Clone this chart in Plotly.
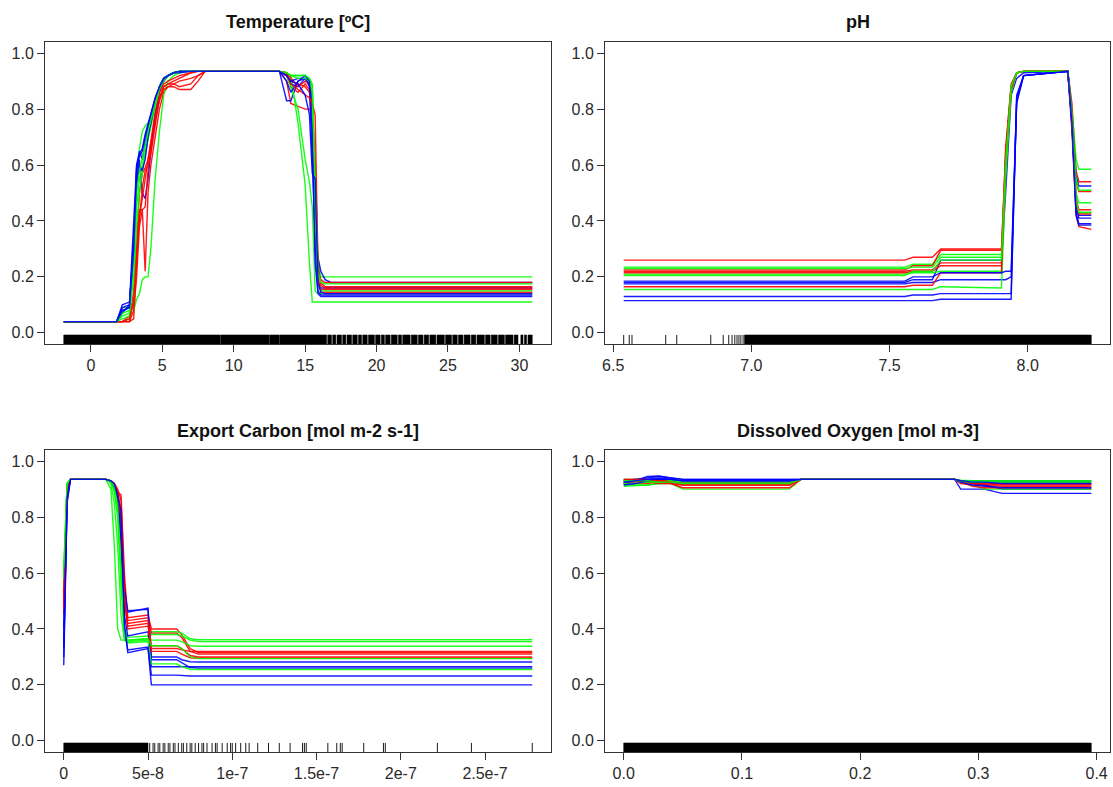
import plotly.graph_objects as go

W, H = 1113, 787
line_colors = ["#FF0000", "#00FF00", "#0000FF"]   # cycled red, green, blue
y_ticks = [0.0, 0.2, 0.4, 0.6, 0.8, 1.0]
y_labels = ["0.0", "0.2", "0.4", "0.6", "0.8", "1.0"]

# ---------------- Temperature ----------------
temp_title = "Temperature [ºC]"
temp_x = [-1.9, 1.8, 2.2, 2.7, 3.0, 3.2, 3.4, 3.6, 3.8, 4.0, 4.2, 4.5, 4.8, 5.1, 5.4, 5.8, 6.2, 7.0, 7.5, 8.0,
          13.2, 13.7, 14.0, 14.5, 15.0, 15.3, 15.5, 15.7, 15.9, 16.1, 16.4, 16.8, 30.9]
temp_curves = [
    [0.04, 0.04, 0.04, 0.04, 0.05, 0.25, 0.44, 0.44, 0.22, 0.50, 0.60, 0.70, 0.80, 0.86, 0.88, 0.88, 0.87, 0.87, 0.90, 0.935,
     0.935, 0.90, 0.82, 0.81, 0.80, 0.80, 0.80, 0.62, 0.25, 0.18, 0.165, 0.165, 0.165],
    [0.04, 0.04, 0.09, 0.09, 0.25, 0.55, 0.66, 0.72, 0.74, 0.75, 0.77, 0.83, 0.88, 0.91, 0.92, 0.93, 0.935, 0.935, 0.935, 0.935,
     0.935, 0.93, 0.92, 0.92, 0.92, 0.91, 0.88, 0.50, 0.25, 0.20, 0.20, 0.20, 0.20],
    [0.04, 0.04, 0.10, 0.11, 0.30, 0.60, 0.65, 0.62, 0.68, 0.73, 0.76, 0.82, 0.87, 0.90, 0.92, 0.93, 0.935, 0.935, 0.935, 0.935,
     0.935, 0.83, 0.83, 0.90, 0.91, 0.88, 0.62, 0.35, 0.27, 0.22, 0.19, 0.18, 0.18],
    [0.04, 0.04, 0.04, 0.04, 0.15, 0.35, 0.50, 0.57, 0.59, 0.62, 0.68, 0.76, 0.84, 0.88, 0.89, 0.90, 0.91, 0.93, 0.935, 0.935,
     0.935, 0.92, 0.88, 0.86, 0.89, 0.87, 0.82, 0.45, 0.22, 0.19, 0.18, 0.18, 0.18],
    [0.04, 0.04, 0.04, 0.05, 0.08, 0.12, 0.14, 0.19, 0.20, 0.20, 0.30, 0.55, 0.72, 0.85, 0.90, 0.92, 0.93, 0.935, 0.935, 0.935,
     0.935, 0.93, 0.92, 0.75, 0.53, 0.25, 0.11, 0.11, 0.11, 0.11, 0.11, 0.11, 0.11],
    [0.04, 0.04, 0.08, 0.09, 0.35, 0.55, 0.62, 0.50, 0.48, 0.55, 0.65, 0.78, 0.86, 0.90, 0.92, 0.93, 0.93, 0.935, 0.935, 0.935,
     0.935, 0.92, 0.89, 0.88, 0.91, 0.90, 0.80, 0.35, 0.18, 0.16, 0.16, 0.16, 0.16],
    [0.04, 0.04, 0.04, 0.06, 0.10, 0.30, 0.42, 0.48, 0.55, 0.63, 0.70, 0.79, 0.86, 0.89, 0.90, 0.91, 0.92, 0.93, 0.935, 0.935,
     0.935, 0.93, 0.91, 0.88, 0.90, 0.89, 0.85, 0.40, 0.17, 0.155, 0.155, 0.155, 0.155],
    [0.04, 0.04, 0.06, 0.07, 0.20, 0.45, 0.55, 0.60, 0.65, 0.70, 0.75, 0.82, 0.88, 0.91, 0.92, 0.93, 0.935, 0.935, 0.935, 0.935,
     0.935, 0.92, 0.88, 0.80, 0.62, 0.54, 0.45, 0.15, 0.14, 0.14, 0.14, 0.14, 0.14],
    [0.04, 0.04, 0.07, 0.10, 0.40, 0.60, 0.63, 0.65, 0.70, 0.74, 0.78, 0.84, 0.88, 0.91, 0.92, 0.93, 0.935, 0.935, 0.935, 0.935,
     0.935, 0.92, 0.90, 0.91, 0.91, 0.89, 0.83, 0.30, 0.15, 0.135, 0.135, 0.135, 0.135],
    [0.04, 0.04, 0.04, 0.04, 0.08, 0.20, 0.38, 0.44, 0.45, 0.58, 0.66, 0.76, 0.83, 0.87, 0.88, 0.89, 0.90, 0.91, 0.92, 0.935,
     0.935, 0.92, 0.90, 0.89, 0.88, 0.86, 0.80, 0.50, 0.20, 0.145, 0.145, 0.145, 0.145],
    [0.04, 0.04, 0.05, 0.06, 0.12, 0.38, 0.50, 0.58, 0.64, 0.69, 0.74, 0.81, 0.87, 0.90, 0.92, 0.93, 0.935, 0.935, 0.935, 0.935,
     0.935, 0.93, 0.92, 0.91, 0.91, 0.90, 0.86, 0.42, 0.17, 0.15, 0.15, 0.15, 0.15],
    [0.04, 0.04, 0.09, 0.10, 0.32, 0.52, 0.60, 0.58, 0.62, 0.70, 0.75, 0.83, 0.88, 0.91, 0.92, 0.93, 0.935, 0.935, 0.935, 0.935,
     0.935, 0.90, 0.86, 0.90, 0.92, 0.90, 0.70, 0.25, 0.14, 0.13, 0.13, 0.13, 0.13],
    [0.04, 0.04, 0.04, 0.05, 0.12, 0.28, 0.40, 0.52, 0.58, 0.60, 0.64, 0.74, 0.84, 0.88, 0.89, 0.89, 0.88, 0.89, 0.92, 0.935,
     0.935, 0.93, 0.89, 0.87, 0.85, 0.84, 0.82, 0.78, 0.24, 0.17, 0.16, 0.16, 0.16],
    [0.04, 0.04, 0.07, 0.08, 0.28, 0.50, 0.58, 0.62, 0.67, 0.72, 0.76, 0.83, 0.88, 0.91, 0.92, 0.93, 0.935, 0.935, 0.935, 0.935,
     0.935, 0.93, 0.92, 0.92, 0.92, 0.91, 0.89, 0.55, 0.22, 0.18, 0.175, 0.175, 0.175],
    [0.04, 0.04, 0.08, 0.09, 0.30, 0.58, 0.64, 0.66, 0.71, 0.75, 0.78, 0.84, 0.88, 0.91, 0.92, 0.93, 0.935, 0.935, 0.935, 0.935,
     0.935, 0.92, 0.90, 0.89, 0.85, 0.78, 0.57, 0.55, 0.18, 0.145, 0.14, 0.14, 0.14],
]
temp_xticks = [0, 5, 10, 15, 20, 25, 30]
temp_xlabels = ["0", "5", "10", "15", "20", "25", "30"]
temp_rug_bands = [[-1.9, 9.07], [9.11, 12.47], [12.51, 13.17], [13.21, 16.5], [16.58, 16.85], [16.93, 17.15],
                  [17.23, 17.55], [17.63, 17.85], [17.93, 18.25], [18.33, 18.65], [18.73, 18.95], [19.03, 19.35],
                  [19.43, 19.85], [19.93, 20.25], [20.33, 20.55], [20.63, 20.95], [21.03, 21.45], [21.53, 21.75],
                  [21.83, 22.35], [22.43, 22.85], [22.93, 23.25], [23.33, 23.65], [23.73, 24.15], [24.23, 24.75],
                  [24.83, 25.25], [25.33, 25.65], [25.73, 26.05], [26.13, 26.55], [26.63, 26.95], [27.03, 27.55],
                  [27.63, 27.95], [28.03, 28.45], [28.53, 28.95], [29.03, 29.55], [29.63, 29.9], [30.1, 30.25],
                  [30.35, 30.5], [30.6, 30.9]]
temp_rug_ticks = []

# ---------------- pH ----------------
ph_title = "pH"
ph_x = [6.538, 7.555, 7.585, 7.655, 7.685, 7.905, 7.92, 7.94, 7.96, 7.985, 8.145, 8.16, 8.175, 8.185, 8.23]
ph_curves = [
    [0.26, 0.26, 0.27, 0.27, 0.30, 0.30, 0.62, 0.88, 0.93, 0.935, 0.935, 0.82, 0.58, 0.54, 0.54],
    [0.235, 0.235, 0.245, 0.245, 0.28, 0.28, 0.58, 0.87, 0.93, 0.935, 0.935, 0.80, 0.62, 0.585, 0.585],
    [0.18, 0.18, 0.19, 0.19, 0.26, 0.26, 0.50, 0.85, 0.91, 0.93, 0.935, 0.78, 0.56, 0.525, 0.525],
    [0.225, 0.225, 0.24, 0.24, 0.295, 0.295, 0.65, 0.88, 0.93, 0.935, 0.935, 0.79, 0.54, 0.505, 0.505],
    [0.23, 0.23, 0.235, 0.235, 0.27, 0.27, 0.60, 0.86, 0.93, 0.935, 0.935, 0.78, 0.55, 0.51, 0.51],
    [0.175, 0.175, 0.18, 0.18, 0.19, 0.19, 0.19, 0.20, 0.82, 0.92, 0.935, 0.76, 0.46, 0.42, 0.42],
    [0.22, 0.22, 0.225, 0.225, 0.25, 0.25, 0.66, 0.89, 0.93, 0.935, 0.935, 0.72, 0.42, 0.38, 0.37],
    [0.21, 0.21, 0.215, 0.215, 0.22, 0.22, 0.60, 0.88, 0.93, 0.935, 0.935, 0.77, 0.50, 0.465, 0.465],
    [0.13, 0.13, 0.135, 0.135, 0.14, 0.14, 0.14, 0.14, 0.84, 0.92, 0.935, 0.74, 0.43, 0.39, 0.39],
    [0.215, 0.215, 0.22, 0.22, 0.24, 0.24, 0.58, 0.87, 0.93, 0.935, 0.935, 0.77, 0.48, 0.44, 0.44],
    [0.155, 0.155, 0.155, 0.155, 0.165, 0.16, 0.55, 0.86, 0.93, 0.935, 0.935, 0.76, 0.47, 0.43, 0.43],
    [0.115, 0.115, 0.115, 0.115, 0.12, 0.12, 0.12, 0.12, 0.85, 0.92, 0.935, 0.75, 0.45, 0.41, 0.41],
    [0.165, 0.165, 0.17, 0.17, 0.215, 0.215, 0.62, 0.87, 0.93, 0.935, 0.935, 0.76, 0.46, 0.425, 0.425],
    [0.205, 0.205, 0.22, 0.22, 0.26, 0.26, 0.61, 0.88, 0.93, 0.935, 0.935, 0.77, 0.47, 0.43, 0.43],
    [0.185, 0.185, 0.20, 0.20, 0.215, 0.215, 0.22, 0.22, 0.83, 0.92, 0.935, 0.75, 0.42, 0.385, 0.385],
]
ph_xticks = [6.5, 7.0, 7.5, 8.0]
ph_xlabels = ["6.5", "7.0", "7.5", "8.0"]
ph_rug_bands = [[6.975, 8.23]]
ph_rug_ticks = [6.538, 6.558, 6.568, 6.69, 6.73, 6.853, 6.898, 6.918, 6.93, 6.94, 6.948, 6.955, 6.962, 6.97]

# ---------------- Export Carbon ----------------
ec_title = "Export Carbon [mol m-2 s-1]"
ec_x = [0.0, 0.2e-8, 0.4e-8, 2.5e-8, 2.8e-8, 3.0e-8, 3.2e-8, 3.4e-8, 3.6e-8, 3.8e-8, 5.0e-8, 5.2e-8,
        6.7e-8, 7.0e-8, 7.5e-8, 8.0e-8, 2.78e-7]
ec_curves = [
    [0.45, 0.90, 0.935, 0.935, 0.93, 0.92, 0.90, 0.86, 0.55, 0.44, 0.45, 0.40, 0.40, 0.38, 0.33, 0.315, 0.315],
    [0.53, 0.92, 0.935, 0.935, 0.90, 0.70, 0.40, 0.36, 0.36, 0.36, 0.365, 0.39, 0.39, 0.385, 0.365, 0.362, 0.362],
    [0.27, 0.85, 0.935, 0.935, 0.93, 0.91, 0.87, 0.75, 0.50, 0.46, 0.475, 0.30, 0.30, 0.29, 0.283, 0.282, 0.282],
    [0.50, 0.91, 0.935, 0.935, 0.93, 0.92, 0.89, 0.88, 0.60, 0.43, 0.44, 0.385, 0.385, 0.37, 0.32, 0.31, 0.31],
    [0.55, 0.92, 0.935, 0.935, 0.92, 0.85, 0.70, 0.45, 0.36, 0.355, 0.36, 0.38, 0.38, 0.375, 0.36, 0.355, 0.355],
    [0.35, 0.88, 0.935, 0.935, 0.93, 0.90, 0.86, 0.80, 0.55, 0.465, 0.47, 0.265, 0.265, 0.265, 0.265, 0.265, 0.265],
    [0.48, 0.90, 0.935, 0.935, 0.93, 0.91, 0.88, 0.70, 0.50, 0.42, 0.43, 0.34, 0.34, 0.33, 0.305, 0.30, 0.30],
    [0.60, 0.92, 0.935, 0.935, 0.93, 0.90, 0.82, 0.60, 0.40, 0.37, 0.375, 0.36, 0.36, 0.355, 0.34, 0.338, 0.338],
    [0.40, 0.88, 0.935, 0.935, 0.93, 0.91, 0.86, 0.78, 0.45, 0.375, 0.39, 0.29, 0.29, 0.28, 0.262, 0.26, 0.26],
    [0.52, 0.91, 0.935, 0.935, 0.93, 0.92, 0.89, 0.82, 0.52, 0.40, 0.41, 0.33, 0.33, 0.325, 0.32, 0.32, 0.32],
    [0.58, 0.92, 0.935, 0.935, 0.93, 0.89, 0.80, 0.55, 0.37, 0.35, 0.355, 0.275, 0.275, 0.265, 0.256, 0.255, 0.255],
    [0.30, 0.86, 0.935, 0.935, 0.93, 0.91, 0.87, 0.72, 0.40, 0.325, 0.335, 0.235, 0.235, 0.233, 0.232, 0.232, 0.232],
    [0.47, 0.90, 0.935, 0.935, 0.93, 0.92, 0.88, 0.80, 0.50, 0.41, 0.42, 0.32, 0.32, 0.31, 0.297, 0.295, 0.295],
    [0.62, 0.92, 0.935, 0.935, 0.93, 0.91, 0.84, 0.62, 0.38, 0.36, 0.365, 0.34, 0.34, 0.33, 0.30, 0.294, 0.294],
    [0.33, 0.87, 0.935, 0.935, 0.93, 0.92, 0.88, 0.82, 0.42, 0.315, 0.33, 0.20, 0.20, 0.20, 0.20, 0.20, 0.20],
]
ec_xticks = [0.0, 5e-8, 1e-7, 1.5e-7, 2e-7, 2.5e-7]
ec_xlabels = ["0", "5e-8", "1e-7", "1.5e-7", "2e-7", "2.5e-7"]
ec_rug_bands = [[0.0, 5.0e-8]]
ec_rug_ticks = [5.1e-8, 5.3e-8, 5.4e-8, 5.6e-8, 5.7e-8, 5.9e-8, 6.0e-8, 6.2e-8, 6.3e-8, 6.5e-8, 6.6e-8, 6.8e-8,
                7.0e-8, 7.1e-8, 7.3e-8, 7.5e-8, 7.6e-8, 7.8e-8, 8.0e-8, 8.2e-8, 8.3e-8, 8.5e-8, 8.8e-8, 9.0e-8,
                9.1e-8, 9.4e-8, 9.7e-8, 9.9e-8, 1.0e-7, 1.02e-7, 1.05e-7, 1.08e-7, 1.1e-7,
                1.151e-7, 1.215e-7, 1.279e-7, 1.343e-7, 1.417e-7, 1.428e-7, 1.439e-7, 1.567e-7, 1.62e-7,
                1.641e-7, 1.652e-7, 1.78e-7, 1.897e-7, 1.908e-7, 2.217e-7, 2.419e-7, 2.78e-7]

# ---------------- Dissolved Oxygen ----------------
do_title = "Dissolved Oxygen [mol m-3]"
do_x = [0.0, 0.01, 0.02, 0.03, 0.04, 0.05, 0.14, 0.15, 0.28, 0.285, 0.295, 0.305, 0.32, 0.3955]
do_curves = [
    [0.925, 0.925, 0.93, 0.93, 0.925, 0.915, 0.915, 0.935, 0.935, 0.925, 0.918, 0.915, 0.915, 0.915],
    [0.91, 0.912, 0.915, 0.92, 0.92, 0.90, 0.90, 0.935, 0.935, 0.93, 0.928, 0.928, 0.928, 0.928],
    [0.92, 0.93, 0.945, 0.947, 0.94, 0.935, 0.935, 0.935, 0.935, 0.90, 0.90, 0.90, 0.885, 0.885],
    [0.935, 0.935, 0.93, 0.925, 0.92, 0.905, 0.905, 0.935, 0.935, 0.92, 0.915, 0.912, 0.91, 0.91],
    [0.935, 0.935, 0.935, 0.935, 0.935, 0.93, 0.93, 0.935, 0.935, 0.93, 0.925, 0.922, 0.922, 0.922],
    [0.925, 0.93, 0.935, 0.94, 0.935, 0.925, 0.925, 0.935, 0.935, 0.925, 0.92, 0.915, 0.90, 0.90],
    [0.92, 0.92, 0.92, 0.93, 0.93, 0.92, 0.92, 0.935, 0.935, 0.925, 0.92, 0.918, 0.918, 0.918],
    [0.915, 0.915, 0.915, 0.92, 0.93, 0.93, 0.93, 0.935, 0.935, 0.925, 0.915, 0.90, 0.90, 0.90],
    [0.93, 0.935, 0.94, 0.945, 0.94, 0.935, 0.935, 0.935, 0.935, 0.93, 0.93, 0.93, 0.93, 0.93],
    [0.93, 0.93, 0.925, 0.92, 0.92, 0.915, 0.915, 0.935, 0.935, 0.925, 0.91, 0.905, 0.905, 0.905],
    [0.92, 0.92, 0.925, 0.925, 0.93, 0.925, 0.925, 0.935, 0.935, 0.932, 0.93, 0.93, 0.93, 0.93],
    [0.915, 0.92, 0.93, 0.935, 0.935, 0.93, 0.93, 0.935, 0.935, 0.925, 0.915, 0.91, 0.905, 0.905],
    [0.935, 0.935, 0.935, 0.93, 0.925, 0.92, 0.92, 0.935, 0.935, 0.93, 0.92, 0.92, 0.92, 0.92],
    [0.93, 0.93, 0.93, 0.925, 0.925, 0.92, 0.92, 0.935, 0.935, 0.928, 0.925, 0.925, 0.925, 0.925],
    [0.925, 0.93, 0.935, 0.935, 0.935, 0.93, 0.93, 0.935, 0.935, 0.93, 0.925, 0.925, 0.92, 0.92],
]
do_xticks = [0.0, 0.1, 0.2, 0.3, 0.4]
do_xlabels = ["0.0", "0.1", "0.2", "0.3", "0.4"]
do_rug_bands = [[0.0, 0.3955]]
do_rug_ticks = []

# ---------------- layout geometry (window pixels) ----------------
panels = [
    dict(title=temp_title, x=temp_x, curves=temp_curves, xt=temp_xticks, xl=temp_xlabels,
         bands=temp_rug_bands, ticks=temp_rug_ticks, px=(45, 551), py=(42, 344), ty=22),
    dict(title=ph_title, x=ph_x, curves=ph_curves, xt=ph_xticks, xl=ph_xlabels,
         bands=ph_rug_bands, ticks=ph_rug_ticks, px=(605, 1110), py=(42, 344), ty=22),
    dict(title=ec_title, x=ec_x, curves=ec_curves, xt=ec_xticks, xl=ec_xlabels,
         bands=ec_rug_bands, ticks=ec_rug_ticks, px=(45, 551), py=(450, 752), ty=431),
    dict(title=do_title, x=do_x, curves=do_curves, xt=do_xticks, xl=do_xlabels,
         bands=do_rug_bands, ticks=do_rug_ticks, px=(605, 1110), py=(450, 752), ty=431),
]

Y_LO, Y_HI = -0.04, 1.04
RUG_TOP = Y_LO + 0.03 * (Y_HI - Y_LO)
font_fam = "Liberation Sans, Arial, Helvetica, sans-serif"
axis_col = "#333333"

fig = go.Figure()
layout = dict(width=W, height=H, margin=dict(l=0, r=0, t=0, b=0, pad=0),
              paper_bgcolor="white", plot_bgcolor="white", showlegend=False,
              font=dict(family=font_fam, size=16, color="#222"), hovermode=False)
annotations = []


def fx(px):
    return px / W


def fy(py):
    return 1 - py / H


for i, p in enumerate(panels):
    n = "" if i == 0 else str(i + 1)
    xa, ya = "x" + n, "y" + n
    xmin, xmax = min(p["x"]), max(p["x"])
    pad = 0.04 * (xmax - xmin)
    for k, ys in enumerate(p["curves"]):
        fig.add_trace(go.Scatter(x=p["x"], y=ys, mode="lines", xaxis=xa, yaxis=ya,
                                 line=dict(color=line_colors[k % 3], width=1.4),
                                 opacity=0.9, hoverinfo="skip"))
    bx, by = [], []
    for a, b in p["bands"]:
        bx += [a, b, b, a, a, None]
        by += [Y_LO, Y_LO, RUG_TOP, RUG_TOP, Y_LO, None]
    if bx:
        fig.add_trace(go.Scatter(x=bx, y=by, mode="lines", fill="toself", fillcolor="black",
                                 line=dict(color="black", width=0.5), xaxis=xa, yaxis=ya,
                                 hoverinfo="skip"))
    tx, ty = [], []
    for v in p["ticks"]:
        tx += [v, v, None]
        ty += [Y_LO, RUG_TOP, None]
    if tx:
        fig.add_trace(go.Scatter(x=tx, y=ty, mode="lines", line=dict(color="black", width=0.9),
                                 xaxis=xa, yaxis=ya, hoverinfo="skip"))

    x0, x1 = p["px"]
    yt, yb = p["py"]
    common = dict(showgrid=False, zeroline=False, showline=True, mirror=True,
                  linecolor=axis_col, linewidth=1, ticks="outside", ticklen=7,
                  tickwidth=1, tickcolor=axis_col, automargin=False, fixedrange=True,
                  tickfont=dict(family=font_fam, size=16, color="#2a2a2a"))
    layout["xaxis" + n] = dict(common, domain=[fx(x0), fx(x1)], anchor=ya,
                               range=[xmin - pad, xmax + pad],
                               tickmode="array", tickvals=p["xt"], ticktext=p["xl"])
    layout["yaxis" + n] = dict(common, domain=[fy(yb), fy(yt)], anchor=xa,
                               range=[Y_LO, Y_HI],
                               tickmode="array", tickvals=y_ticks, ticktext=y_labels)
    annotations.append(dict(text="<b>" + p["title"] + "</b>", xref="paper", yref="paper",
                            x=fx((x0 + x1) / 2), y=fy(p["ty"]), xanchor="center",
                            yanchor="middle", showarrow=False,
                            font=dict(family=font_fam, size=18, color="#111")))

layout["annotations"] = annotations
fig.update_layout(**layout)
# remove the browser's default 8px page margin so the figure fills the window exactly
page_fix = ("document.body.style.margin='0';"
            "document.documentElement.style.overflow='hidden';"
            "document.body.style.overflow='hidden';")
fig.write_html("out.html", post_script=page_fix,
               config={"displayModeBar": False, "staticPlot": True})
